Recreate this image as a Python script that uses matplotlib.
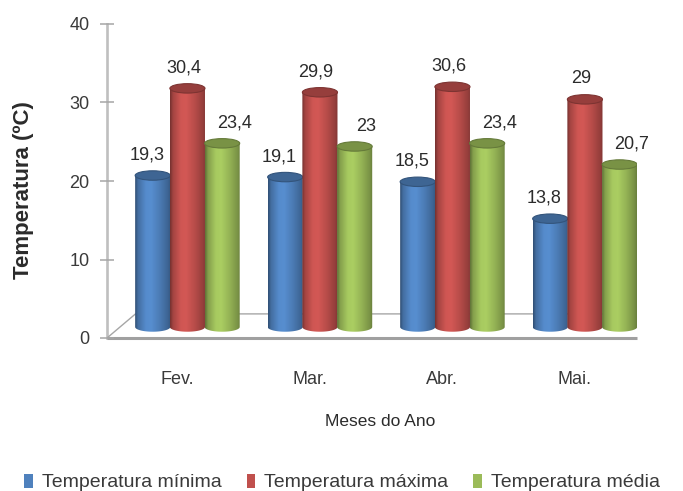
import numpy as np
import matplotlib
matplotlib.use("Agg")
import matplotlib.pyplot as plt
from matplotlib.patches import Polygon, Ellipse, Patch
from matplotlib.colors import to_rgb

# temperaturas mensais (ºC)
meses = ["Fev.", "Mar.", "Abr.", "Mai."]
t_minima = [19.3, 19.1, 18.5, 13.8]
t_maxima = [30.4, 29.9, 30.6, 29.0]
t_media = [23.4, 23.0, 23.4, 20.7]

nomes = ["Temperatura mínima", "Temperatura máxima", "Temperatura média"]
cores = ["#4F81BD", "#C0504D", "#9BBB59"]
series = [t_minima, t_maxima, t_media]

plt.rcParams['font.family'] = ['Liberation Sans', 'DejaVu Sans']

# geometria da pseudo-perspectiva (em unidades dos eixos)
prof_x = 0.215      # deslocamento do fundo do piso em x
prof_y = 3.07       # deslocamento do fundo do piso em y
base_y = 1.4        # altura do centro da base dos cilindros
larg = 0.265        # largura dos cilindros
passo = 0.262       # distancia entre cilindros do mesmo mes
centro_grupo = 0.607
elip_h = 1.2        # altura da elipse do topo/base
desl_rotulo = [-0.045, -0.03, 0.09]


def gradiente(cor):
    pos = np.linspace(0, 1, 64)
    f = np.interp(pos, [0, 0.08, 0.3, 0.45, 0.7, 0.92, 1],
                  [0.62, 0.85, 1.08, 1.1, 0.95, 0.78, 0.68])
    rgb = np.clip(np.array(to_rgb(cor))[None, :] * f[:, None], 0, 1)
    return rgb[None, :, :]


def cilindro(ax, xc, valor, cor, z):
    x0, x1 = xc - larg / 2, xc + larg / 2
    topo = valor + base_y
    ang = np.linspace(np.pi, 2 * np.pi, 40)
    contorno = [(x0, topo)]
    contorno += [(xc + larg / 2 * np.cos(a), base_y + elip_h / 2 * np.sin(a)) for a in ang]
    contorno += [(x1, topo)]
    clip = Polygon(contorno, closed=True, facecolor='none', edgecolor='none')
    ax.add_patch(clip)
    img = ax.imshow(gradiente(cor), extent=(x0, x1, base_y - elip_h / 2, topo),
                    aspect='auto', interpolation='bilinear', zorder=z)
    img.set_clip_path(clip)
    escura = np.array(to_rgb(cor)) * 0.78
    ax.add_patch(Ellipse((xc, topo), larg, elip_h, facecolor=escura,
                         edgecolor=np.array(to_rgb(cor)) * 0.65, linewidth=0.8,
                         zorder=z + 0.001))


fig = plt.figure(figsize=(6.83, 4.91), dpi=100)
ax = fig.add_axes([107 / 683, (491 - 338) / 491, 530 / 683, 314 / 491])

# piso
n = len(meses)
piso = Polygon([(0, 0), (n, 0), (n + prof_x, prof_y), (prof_x, prof_y)], closed=True,
               facecolor='white', edgecolor='#A6A6A6', linewidth=1.0, zorder=1)
ax.add_patch(piso)
ax.plot([0, n], [0, 0], color='#A0A0A0', linewidth=2.2, zorder=1.5,
        solid_capstyle='butt', clip_on=False)

for i in range(n):
    for k, (vals, cor) in enumerate(zip(series, cores)):
        xc = i + centro_grupo + (k - 1) * passo
        cilindro(ax, xc, vals[i], cor, 3 + i * 0.1 + k * 0.01)
        rotulo = f"{vals[i]:g}".replace(".", ",")
        ax.text(xc + desl_rotulo[k], vals[i] + 4.0, rotulo, ha='center', va='center',
                fontsize=13, color='#2b2b2b', zorder=10)

ax.set_xlim(0, n)
ax.set_ylim(0, 40)

for lado in ['top', 'right', 'bottom']:
    ax.spines[lado].set_visible(False)
ax.spines['left'].set_color('#BFBFBF')
ax.spines['left'].set_linewidth(1.9)
ax.spines['left'].set_zorder(0.5)

ax.set_yticks([0, 10, 20, 30, 40])
ax.tick_params(axis='y', direction='inout', length=9.5, width=1.1, color='#A6A6A6',
               pad=8, labelsize=13, labelcolor='#3a3a3a')
ax.set_xticks(np.arange(n) + 0.53)
ax.set_xticklabels(meses)
ax.tick_params(axis='x', length=0, pad=24, labelsize=13, labelcolor='#3a3a3a')

fig.text(24 / 683, 1 - 190 / 491, "Temperatura (ºC)", rotation=90, ha='center',
         va='center', fontsize=16, fontweight='bold', color='#2b2b2b')
fig.text(380 / 683, 1 - 422 / 491, "Meses do Ano", ha='center', va='center',
         fontsize=12.5, color='#2b2b2b')

alcas = [Patch(facecolor=c, edgecolor='none') for c in cores]
fig.legend(alcas, nomes, loc='center left', bbox_to_anchor=(24 / 683, 1 - 482.5 / 491),
           ncol=3, frameon=False, fontsize=14, handlelength=0.45, handleheight=0.75,
           handletextpad=0.45, columnspacing=1.3, borderaxespad=0, borderpad=0,
           labelcolor='#3a3a3a')

fig.savefig("out.png", dpi=100)
